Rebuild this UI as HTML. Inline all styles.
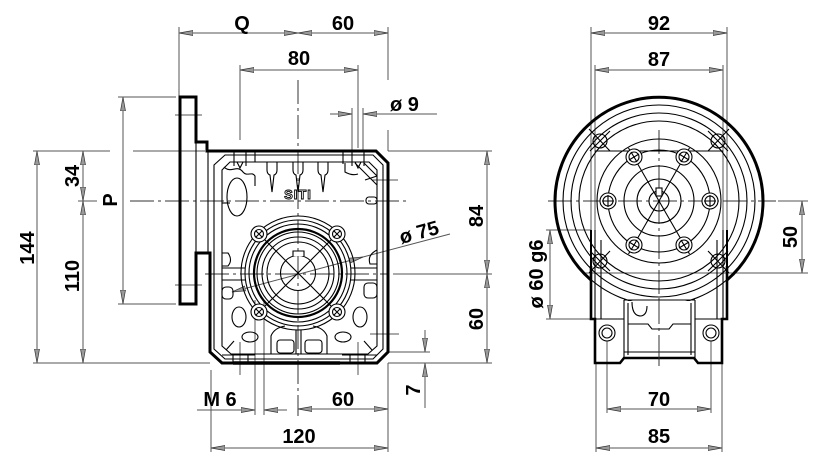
<!DOCTYPE html>
<html><head><meta charset="utf-8"><style>
html,body{margin:0;padding:0;background:#fff;}
svg{display:block}
text{font-family:"Liberation Sans",Arial,sans-serif;font-weight:bold;font-size:20px;fill:#000}
</style></head><body>
<svg width="821" height="468" viewBox="0 0 821 468" xmlns="http://www.w3.org/2000/svg">
<defs>
<marker id="a" markerUnits="userSpaceOnUse" markerWidth="16" markerHeight="8" refX="14" refY="4" orient="auto-start-reverse"><path d="M0,1.5 L14,4 L0,6.5 Z" fill="#9a9a9a" stroke="#333" stroke-width="0.7"/></marker>
</defs>
<rect width="821" height="468" fill="#fff"/>

<!-- ===== Dimension lines ===== -->
<g stroke="#555" stroke-width="1" fill="none" marker-start="url(#a)" marker-end="url(#a)">
<line x1="179" y1="33" x2="298" y2="33"/>
<line x1="298" y1="33" x2="388" y2="33"/>
<line x1="240" y1="70" x2="358" y2="70"/>
<line x1="487" y1="151" x2="487" y2="274"/>
<line x1="487" y1="274" x2="487" y2="363"/>
<line x1="37" y1="151" x2="37" y2="363"/>
<line x1="83" y1="151" x2="83" y2="201"/>
<line x1="83" y1="201" x2="83" y2="363"/>
<line x1="123" y1="97" x2="123" y2="304"/>
<line x1="298" y1="409" x2="388" y2="409"/>
<line x1="211" y1="448" x2="388" y2="448"/>
<line x1="591" y1="33" x2="727" y2="33"/>
<line x1="595" y1="70" x2="723" y2="70"/>
<line x1="802" y1="201" x2="802" y2="273"/>
<line x1="550" y1="230" x2="550" y2="319"/>
<line x1="607" y1="409" x2="711" y2="409"/>
<line x1="596" y1="448" x2="722" y2="448"/>
<line x1="232" y1="292" x2="363" y2="257"/>
</g>
<g stroke="#555" stroke-width="1" fill="none" marker-end="url(#a)">
<line x1="330" y1="114" x2="352" y2="114"/>
<line x1="437" y1="114" x2="363" y2="114"/>
<line x1="425" y1="330" x2="425" y2="352"/>
<line x1="425" y1="408" x2="425" y2="363"/>
<line x1="197" y1="410" x2="255" y2="410"/>
<line x1="287" y1="410" x2="264" y2="410"/>
</g>
<g stroke="#555" stroke-width="1" fill="none">
<line x1="363" y1="257" x2="450" y2="234"/>
<!-- extension lines left view -->
<line x1="179" y1="27" x2="179" y2="97"/>
<line x1="388" y1="27" x2="388" y2="80"/>
<line x1="388" y1="130" x2="388" y2="151"/>
<line x1="388" y1="363" x2="388" y2="452"/>
<line x1="240" y1="65" x2="240" y2="140"/>
<line x1="358" y1="65" x2="358" y2="148"/>
<line x1="352" y1="108" x2="352" y2="152"/>
<line x1="363" y1="108" x2="363" y2="152"/>
<line x1="33" y1="151" x2="110" y2="151"/>
<line x1="133" y1="151" x2="205" y2="151"/>
<line x1="118" y1="97" x2="176" y2="97"/>
<line x1="118" y1="304" x2="176" y2="304"/>
<line x1="33" y1="363" x2="210" y2="363"/>
<line x1="388" y1="363" x2="492" y2="363"/>
<line x1="388" y1="151" x2="492" y2="151"/>
<line x1="393" y1="274" x2="492" y2="274"/>
<line x1="388" y1="352" x2="430" y2="352"/>
<line x1="211" y1="370" x2="211" y2="452"/>
<line x1="255" y1="300" x2="255" y2="415"/>
<line x1="264" y1="300" x2="264" y2="415"/>
<line x1="78" y1="201" x2="97" y2="201"/>
<line x1="372" y1="180" x2="398" y2="180"/>
<line x1="370" y1="334" x2="399" y2="334"/>
<line x1="175" y1="115" x2="202" y2="115"/>
<line x1="175" y1="285" x2="202" y2="285"/>
<line x1="240" y1="342" x2="240" y2="375"/>
<line x1="358" y1="342" x2="358" y2="375"/>
<!-- extension lines right view -->
<line x1="591" y1="27" x2="591" y2="270"/>
<line x1="727" y1="27" x2="727" y2="270"/>
<line x1="595" y1="65" x2="595" y2="319"/>
<line x1="723" y1="65" x2="723" y2="319"/>
<line x1="778" y1="201" x2="808" y2="201"/>
<line x1="582" y1="273" x2="808" y2="273"/>
<line x1="546" y1="230" x2="591" y2="230"/>
<line x1="546" y1="319" x2="591" y2="319"/>
<line x1="596" y1="363" x2="596" y2="452"/>
<line x1="722" y1="363" x2="722" y2="452"/>
<line x1="607" y1="333" x2="607" y2="413"/>
<line x1="711" y1="333" x2="711" y2="413"/>
</g>

<!-- centerlines -->
<g stroke="#333" stroke-width="1" fill="none" stroke-dasharray="24 4 3 4">
<line x1="298" y1="80" x2="298" y2="416"/>
<line x1="130" y1="201" x2="410" y2="201"/>
<line x1="205" y1="274" x2="388" y2="274"/>
<line x1="659" y1="130" x2="659" y2="366"/>
<line x1="548" y1="201" x2="776" y2="201"/>
</g>

<!-- ===== Left view object ===== -->
<g stroke="#000" fill="none" stroke-width="1.1">
<path d="M180,304 L180,97 L196,97 L196,142 L207,142 L207,151 L376,151 L388,163 L388,352 L377,363 L222,363 L210,352 L210,253 L196,253 L196,304 Z" stroke-width="3" stroke-linejoin="miter"/>
<line x1="196" y1="142" x2="196" y2="253"/>
<line x1="208" y1="151" x2="208" y2="253"/>
<path d="M214,165 L225,155 L373,155 L383,165 L383,349 L373,359 L225,359 L214,349 Z"/>
<path d="M222,170 L230,162 L369,162 L377,170 L377,346 L368,354 L231,354 L222,346 Z"/>
<!-- top bosses -->
<line x1="234" y1="151" x2="234" y2="166"/><line x1="246" y1="151" x2="246" y2="166"/><line x1="255" y1="151" x2="255" y2="162"/>
<line x1="343" y1="151" x2="343" y2="164"/><line x1="352" y1="151" x2="352" y2="166"/><line x1="364" y1="151" x2="364" y2="166"/>
<path d="M237,162 L240,168 L243,162"/><path d="M355,162 L358,168 L361,162"/>
<!-- fins -->
<path d="M267,162 L267,170 Q267,174 270,175 L272,192 L274,175 Q277,174 277,170 L277,162"/>
<path d="M293,162 L293,170 Q293,174 296,175 L298,192 L300,175 Q303,174 303,170 L303,162"/>
<path d="M318,162 L318,170 Q318,174 321,175 L323,192 L325,175 Q328,174 328,170 L328,162"/>
<!-- lobes left top -->
<ellipse cx="237" cy="197" rx="10" ry="19"/>
<path d="M224,167 C231,174 237,164 243,172 C247,177 252,171 255,176 L255,186"/>
<path d="M222,203 L230,203"/>
<!-- right top ribs -->
<path d="M355,163 L377,185"/><path d="M364,163 L377,176"/>
<path d="M345,163 L345,172 Q352,176 358,174"/>
<rect x="366" y="197" width="11" height="7" rx="3"/>
<path d="M365,180 L377,176"/>
<!-- output flange -->
<circle cx="298" cy="273" r="57"/>
<circle cx="298" cy="273" r="53"/>
<circle cx="298" cy="273" r="49"/>
<circle cx="298" cy="273" r="44" stroke-width="2.2"/>
<circle cx="298" cy="273" r="41"/>
<circle cx="298" cy="273" r="36"/>
<circle cx="298" cy="273" r="31"/>
<circle cx="298" cy="273" r="17.5"/>
<path d="M293,256 L293,251 L304,251 L304,256" fill="#fff"/>
<line x1="254" y1="229" x2="342" y2="317"/>
<line x1="342" y1="229" x2="254" y2="317"/>
<g fill="#fff">
<circle cx="259" cy="234" r="8"/><circle cx="259" cy="234" r="4.5"/>
<circle cx="337" cy="234" r="8"/><circle cx="337" cy="234" r="4.5"/>
<circle cx="259" cy="312" r="8"/><circle cx="259" cy="312" r="4.5"/>
<circle cx="337" cy="312" r="8"/><circle cx="337" cy="312" r="4.5"/>
</g>
<path d="M256,231 L262,237 M262,231 L256,237 M334,231 L340,237 M340,231 L334,237 M256,309 L262,315 M262,309 L256,315 M334,309 L340,315 M340,309 L334,315"/>
<!-- side bars at axis -->
<line x1="222" y1="268" x2="245" y2="268"/><line x1="222" y1="280" x2="245" y2="280"/>
<line x1="351" y1="268" x2="377" y2="268"/><line x1="351" y1="280" x2="377" y2="280"/>
<path d="M222,253 L228,253 Q233,260 228,266 L222,266"/>
<rect x="222" y="287" width="11" height="12" rx="4"/>
<rect x="364" y="283" width="13" height="15" rx="4"/>
<path d="M377,250 Q367,255 370,264 L377,264"/>
<!-- bottom lobes -->
<ellipse cx="239" cy="317" rx="7" ry="10"/>
<ellipse cx="250" cy="337" rx="8" ry="5"/>
<ellipse cx="360" cy="317" rx="7" ry="10"/>
<ellipse cx="343" cy="337" rx="8" ry="5"/>
<rect x="277" y="340" width="17" height="13" rx="3"/>
<rect x="305" y="340" width="17" height="13" rx="3"/>
<path d="M271,354 L271,336 Q274,328 285,326"/>
<path d="M327,354 L327,336 Q324,328 313,326"/>
<path d="M296,330 L296,354 M301,330 L301,354"/>
<path d="M226,350 L234,341"/><path d="M372,350 L364,341"/>
<!-- feet -->
<line x1="222" y1="355" x2="255" y2="355"/><line x1="342" y1="355" x2="377" y2="355"/>
<path d="M233,355 L233,363 M248,355 L248,363 M350,355 L350,363 M365,355 L365,363"/>
</g>
<line x1="233" y1="363" x2="340" y2="363" stroke="#000" stroke-width="3.5"/>
<text x="298" y="199" text-anchor="middle" style="font-size:13px;letter-spacing:1px;fill:#fff;stroke:#000;stroke-width:0.9">SITI</text>

<!-- ===== Right view object ===== -->
<g stroke="#000" fill="none" stroke-width="1.1">
<circle cx="659" cy="201" r="104"/>
<path d="M591,280 A104,104 0 1 1 727,280" stroke-width="3"/>
<circle cx="659" cy="201" r="96"/>
<circle cx="659" cy="201" r="88"/>
<circle cx="659" cy="201" r="80"/>
<circle cx="659" cy="201" r="62"/>
<circle cx="659" cy="201" r="51"/>
<circle cx="659" cy="201" r="35"/>
<circle cx="659" cy="201" r="22"/>
<circle cx="659" cy="201" r="10"/>
<rect x="656" y="188" width="6" height="8" fill="#fff"/>
<line x1="595" y1="151" x2="723" y2="151"/>
<line x1="628.5" y1="148" x2="689.5" y2="254"/>
<line x1="689.5" y1="148" x2="628.5" y2="254"/>
<g fill="#fff">
<circle cx="634" cy="157" r="8"/><circle cx="634" cy="157" r="5"/>
<circle cx="684" cy="157" r="8"/><circle cx="684" cy="157" r="5"/>
<circle cx="608" cy="201" r="8"/><circle cx="608" cy="201" r="5"/>
<circle cx="710" cy="201" r="8"/><circle cx="710" cy="201" r="5"/>
<circle cx="634" cy="245" r="8"/><circle cx="634" cy="245" r="5"/>
<circle cx="684" cy="245" r="8"/><circle cx="684" cy="245" r="5"/>
</g>
<path d="M631,152 L637,162 M629,160 L639,154 M681,162 L687,152 M679,154 L689,160 M631,250 L637,240 M629,242 L639,248 M681,240 L687,250 M679,248 L689,242 M602,201 L614,201 M608,195 L608,207 M704,201 L716,201 M710,195 L710,207"/>
<!-- corner marks -->
<circle cx="600" cy="141" r="7"/><circle cx="718" cy="141" r="7"/>
<circle cx="600" cy="261" r="7"/><circle cx="718" cy="261" r="7"/>
<path d="M610,151 L589,129 M610,131 L590,151 M708,151 L729,129 M708,131 L728,151 M610,251 L589,273 M610,271 L590,251 M708,251 L729,273 M708,271 L728,251"/>
<!-- lower housing -->
<rect x="624" y="301" width="71" height="57" fill="#fff" stroke="none"/>
<path d="M591,266 L591,319 L595,319 L595,363 L620,363 L624,358 L694,358 L698,363 L722,363 L722,319 L727,319 L727,266" stroke-width="2.6"/>
<line x1="595" y1="319" x2="595" y2="230"/>
<line x1="723" y1="319" x2="723" y2="230"/>
<line x1="601" y1="240" x2="601" y2="319"/>
<line x1="717" y1="240" x2="717" y2="319"/>
<line x1="595" y1="319" x2="624" y2="319"/>
<line x1="695" y1="319" x2="722" y2="319"/>
<path d="M624,300 L695,300 M624,300 L624,358 M695,300 L695,358 M628,303 L628,355 M691,303 L691,355"/>
<path d="M628,324 L648,324 L652,329 L669,329 L673,324 L691,324"/>
<path d="M632,302 Q632,316 641,316 Q647,315 647,306"/>
<line x1="624" y1="352" x2="695" y2="352"/>
<circle cx="607" cy="333" r="8" fill="#fff"/><circle cx="607" cy="333" r="5"/>
<circle cx="711" cy="333" r="8" fill="#fff"/><circle cx="711" cy="333" r="5"/>
<line x1="659" y1="300" x2="659" y2="366" stroke-dasharray="24 4 3 4" stroke="#333" stroke-width="1"/>
</g>
<line x1="591" y1="230" x2="591" y2="270" stroke="#000" stroke-width="2"/>
<line x1="727" y1="230" x2="727" y2="270" stroke="#000" stroke-width="2"/>

<!-- ===== Texts ===== -->
<text x="242" y="30" text-anchor="middle">Q</text>
<text x="343" y="30" text-anchor="middle">60</text>
<text x="299" y="65" text-anchor="middle">80</text>
<text x="390" y="111">ø 9</text>
<text x="220" y="406" text-anchor="middle">M 6</text>
<text x="343" y="406" text-anchor="middle">60</text>
<text x="299" y="443" text-anchor="middle">120</text>
<text x="659" y="30" text-anchor="middle">92</text>
<text x="659" y="66" text-anchor="middle">87</text>
<text x="659" y="406" text-anchor="middle">70</text>
<text x="659" y="443" text-anchor="middle">85</text>
<text transform="translate(27,248) rotate(-90)" x="0" y="7" text-anchor="middle">144</text>
<text transform="translate(72,176) rotate(-90)" x="0" y="7" text-anchor="middle">34</text>
<text transform="translate(72,276) rotate(-90)" x="0" y="7" text-anchor="middle">110</text>
<text transform="translate(110,200) rotate(-90)" x="0" y="7" text-anchor="middle">P</text>
<text transform="translate(476,216) rotate(-90)" x="0" y="7" text-anchor="middle">84</text>
<text transform="translate(476,319) rotate(-90)" x="0" y="7" text-anchor="middle">60</text>
<text transform="translate(413,390) rotate(-90)" x="0" y="7" text-anchor="middle">7</text>
<text transform="translate(790,237) rotate(-90)" x="0" y="7" text-anchor="middle">50</text>
<text transform="translate(536,274) rotate(-90)" x="0" y="7" text-anchor="middle">ø 60 g6</text>
<text transform="translate(419,232) rotate(-15)" x="0" y="7" text-anchor="middle">ø 75</text>
</svg>
</body></html>
